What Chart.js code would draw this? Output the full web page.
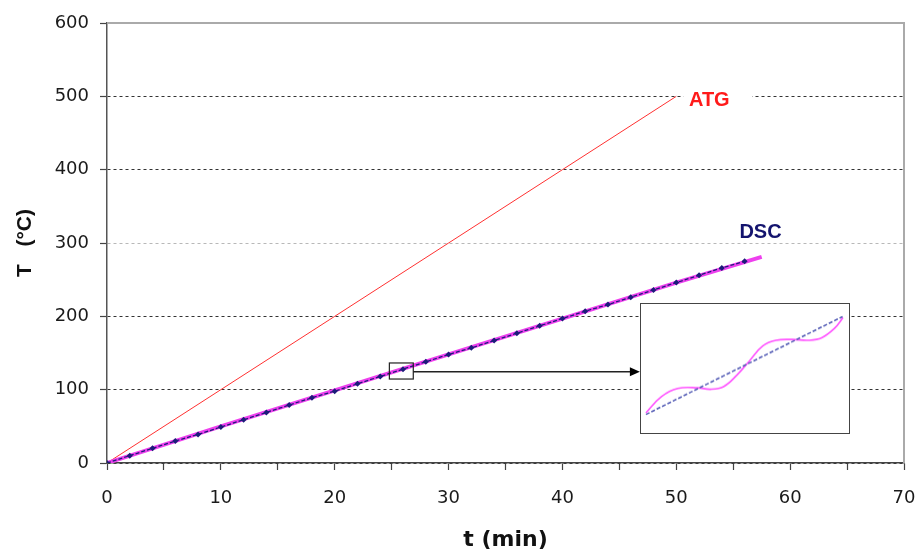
<!DOCTYPE html>
<html>
<head>
<meta charset="utf-8">
<script src="https://cdn.jsdelivr.net/npm/chart.js@4.4.1/dist/chart.umd.min.js"></script>
<style>
body{margin:0;background:#fff;}
#wrap{position:relative;width:917px;height:551px;}
#inset{position:absolute;background:#fff;border:1.5px solid #444;box-sizing:border-box;}
</style>
</head>
<body>
<div id="wrap">
  <canvas id="tChart" width="917" height="551"></canvas>
  <div id="inset"><canvas id="zoomChart"></canvas></div>
</div>
<script>
// ATG : rampa 10 °C/min
const atgTime = [0, 10, 20, 30, 40, 50];
const atgTemp = [0, 100, 200, 300, 400, 500];
// DSC : puntos medidos (cada 2 min)
const dscTime = [0,2,4,6,8,10,12,14,16,18,20,22,24,26,28,30,32,34,36,38,40,42,44,46,48,50,52,54,56];
const dscTemp = [0,10,20,30,39,49,59,69,79,89,98,108,118,128,138,148,157,167,177,187,197,207,216,226,236,246,256,266,275];
// DSC : traza continua (magenta)
const traceTime = [0, 10, 20, 30, 40, 50, 57.5];
const traceTemp = [0, 50, 99, 148, 197, 246, 281];
// ejes
const xTicks = [0, 10, 20, 30, 40, 50, 60, 70];
const yTicks = [0, 100, 200, 300, 400, 500, 600];
// detalle ampliado (unidades locales del recuadro)
const zoomLineX = [0.2, 9.7];
const zoomLineY = [0.87, 5.45];
const zoomWaveX = [0.2, 0.95, 1.74, 2.69, 3.32, 3.95, 4.58, 5.21, 5.84, 6.48, 7.27, 8.06, 8.69, 9.32, 9.72];
const zoomWaveY = [0.95, 1.71, 2.09, 2.12, 2.05, 2.17, 2.70, 3.39, 4.08, 4.34, 4.38, 4.34, 4.46, 4.91, 5.40];

const pts = (xs, ys) => xs.map((x, i) => ({x: x, y: ys[i]}));

// zona marcada y recuadro, en coordenadas del gráfico
const markBox = {t0: 24.8, t1: 26.9, T0: 114.5, T1: 136.4, Tarrow: 124.5};
const insetBox = {t0: 46.8, t1: 65.3, T0: 39.5, T1: 218};

const overlay = {
  id: 'overlay',
  beforeDatasetsDraw(chart){
    const c = chart.ctx, a = chart.chartArea;
    c.save();
    c.strokeStyle = '#aaa'; c.lineWidth = 2;
    c.beginPath();
    c.moveTo(a.left, a.top); c.lineTo(a.right, a.top); c.lineTo(a.right, a.bottom);
    c.stroke();
    c.restore();
  },
  afterDatasetsDraw(chart){
    const c = chart.ctx, x = chart.scales.x, y = chart.scales.y;
    c.save();
    // etiquetas
    c.font = 'bold 20px "Liberation Sans"';
    c.textAlign = 'center'; c.textBaseline = 'middle';
    const ax = x.getPixelForValue(52.9), ay = y.getPixelForValue(495);
    c.fillStyle = '#fff'; c.fillRect(ax - 26, ay - 10, 69, 18);
    c.fillStyle = '#ff1a1a'; c.fillText('ATG', ax, ay);
    c.fillStyle = '#14146e';
    c.fillText('DSC', x.getPixelForValue(57.4), y.getPixelForValue(315));
    // rectángulo de la zona ampliada
    const l = x.getPixelForValue(markBox.t0), r = x.getPixelForValue(markBox.t1);
    const t = y.getPixelForValue(markBox.T1), b = y.getPixelForValue(markBox.T0);
    c.strokeStyle = '#222'; c.lineWidth = 1.2;
    c.strokeRect(l, t, r - l, b - t);
    // flecha
    const ya = y.getPixelForValue(markBox.Tarrow);
    const xe = x.getPixelForValue(insetBox.t0);
    c.lineWidth = 1.5;
    c.beginPath(); c.moveTo(r, ya); c.lineTo(xe - 8, ya); c.stroke();
    c.fillStyle = '#000';
    c.beginPath(); c.moveTo(xe, ya); c.lineTo(xe - 10, ya - 4.5); c.lineTo(xe - 10, ya + 4.5); c.closePath(); c.fill();
    c.restore();
  }
};

Chart.defaults.font.family = '"DejaVu Sans"';
Chart.defaults.color = '#1a1a1a';

const mainChart = new Chart(document.getElementById('tChart'), {
  type: 'line',
  data: {
    datasets: [
      {label: 'DSC', data: pts(dscTime, dscTemp), borderColor: '#1c1c7a', borderWidth: 1.3, borderDash: [4, 2],
       pointStyle: 'rectRot', pointRadius: 3, pointBackgroundColor: '#1c1c7a', pointBorderColor: '#1c1c7a', pointBorderWidth: 0},
      {label: 'DSC traza', data: pts(traceTime, traceTemp), borderColor: '#ee40ee', borderWidth: 4, pointRadius: 0},
      {label: 'ATG', data: pts(atgTime, atgTemp), borderColor: '#ff3030', borderWidth: 1, pointRadius: 0}
    ]
  },
  options: {
    responsive: false,
    devicePixelRatio: 1,
    animation: false,
    layout: {padding: {top: 23, right: 0, left: 0, bottom: 0}},
    plugins: {legend: {display: false}, tooltip: {enabled: false}},
    scales: {
      x: {
        type: 'linear', min: 0, max: 70,
        afterFit: s => { s.height = 88; s.paddingRight = 13; },
        ticks: {stepSize: 5, padding: 18, font: {size: 18}, color: '#1a1a1a',
                callback: v => xTicks.includes(v) ? String(v) : ''},
        grid: {drawOnChartArea: false, tickLength: 7, tickColor: '#444', tickWidth: 1.2},
        border: {color: '#444', width: 1.5},
        title: {display: true, text: 't (min)', font: {size: 22, weight: 'bold', lineHeight: 1}, padding: 0, color: '#111'}
      },
      y: {
        min: 0, max: 600,
        afterFit: s => { s.width = 107; },
        afterBuildTicks: s => { s.ticks = yTicks.map(v => ({value: v})); },
        ticks: {padding: 11, font: {size: 18}, color: '#1a1a1a'},
        grid: {color: c => c.tick.value === 300 ? '#b8b8b8' : '#333', lineWidth: 1,
               tickLength: 7, tickColor: '#444', tickWidth: 1.2},
        border: {color: '#555', width: 1.5, dash: [3, 3]},
        title: {display: true, text: 'T   (°C)', font: {family: '"Liberation Sans"', size: 21, weight: 'bold', lineHeight: 1},
                padding: {top: 14.5, bottom: 0}, color: '#111'}
      }
    }
  },
  plugins: [overlay]
});

// recuadro con el detalle
const sx = mainChart.scales.x, sy = mainChart.scales.y;
const box = document.getElementById('inset');
const bl = sx.getPixelForValue(insetBox.t0), br = sx.getPixelForValue(insetBox.t1);
const bt = sy.getPixelForValue(insetBox.T1), bb = sy.getPixelForValue(insetBox.T0);
box.style.left = bl + 'px'; box.style.top = bt + 'px';
box.style.width = (br - bl) + 'px'; box.style.height = (bb - bt) + 'px';

new Chart(document.getElementById('zoomChart'), {
  type: 'line',
  data: {
    datasets: [
      {data: pts(zoomLineX, zoomLineY), borderColor: '#5a62b8', borderWidth: 1.6, borderDash: [4, 2], pointRadius: 0},
      {data: pts(zoomWaveX, zoomWaveY), borderColor: '#ff55ff', borderWidth: 1.6, pointRadius: 0, tension: 0.4}
    ]
  },
  options: {
    responsive: true, maintainAspectRatio: false, devicePixelRatio: 1, animation: false,
    layout: {padding: 0},
    plugins: {legend: {display: false}, tooltip: {enabled: false}},
    scales: {
      x: {type: 'linear', min: 0, max: 10, display: false},
      y: {min: 0, max: 6, display: false}
    }
  }
});
</script>
</body>
</html>
